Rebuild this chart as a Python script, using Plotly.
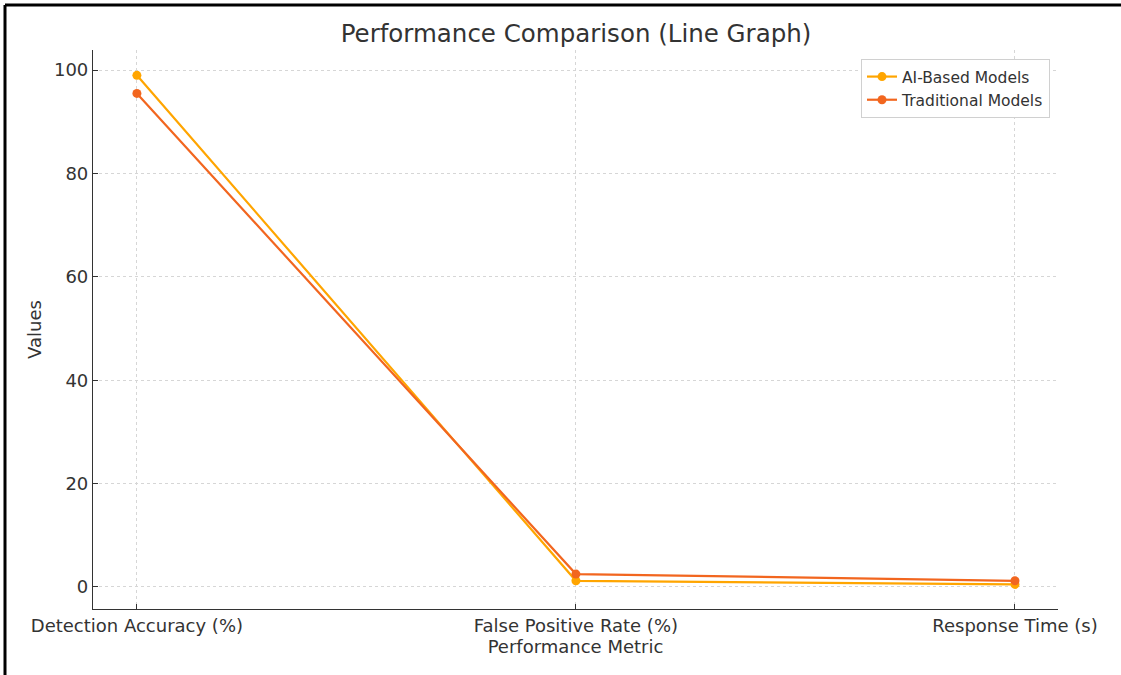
import plotly.graph_objects as go

categories = ["Detection Accuracy (%)", "False Positive Rate (%)", "Response Time (s)"]
ai_values = [99.0, 1.2, 0.5]
traditional_values = [95.5, 2.5, 1.2]

L, R, T, B = 93, 63, 50, 66
W, H = 1121, 675
pw, ph = W - L - R, H - T - B

def px_x(px):
    return (px - L) / pw

def px_y(py):
    return (H - B - py) / ph

fig = go.Figure()
fig.add_trace(go.Scatter(
    x=list(range(len(categories))), y=ai_values, name="AI-Based Models",
    mode="lines+markers", line=dict(color="#FFA500", width=2.2),
    marker=dict(size=9, color="#FFA500")))
fig.add_trace(go.Scatter(
    x=list(range(len(categories))), y=traditional_values, name="Traditional Models",
    mode="lines+markers", line=dict(color="#F2661F", width=2.2),
    marker=dict(size=9, color="#F2661F")))

font = "DejaVu Sans, Verdana, sans-serif"
fig.update_layout(
    width=W, height=H,
    margin=dict(l=L, r=R, t=T, b=B),
    paper_bgcolor="white", plot_bgcolor="white",
    font=dict(family=font, size=18, color="#333333"),
    title=dict(text="Performance Comparison (Line Graph)", x=px_x(576), xref="paper",
               xanchor="center", y=1 - 33 / H, yanchor="middle",
               font=dict(size=24.5, color="#333333")),
    xaxis=dict(
        tickvals=list(range(len(categories))), ticktext=categories,
        range=[-0.1, 2.098], showline=True, linecolor="#333333", linewidth=1.2,
        ticks="inside", ticklen=5, tickcolor="#333333",
        showgrid=True, gridcolor="#d6d6d6", griddash="3px,3px", gridwidth=1,
        zeroline=False,
        title=dict(text="Performance Metric", font=dict(size=18), standoff=4),
        tickfont=dict(size=18)),
    yaxis=dict(
        range=[-4.26, 103.9], tickvals=[0, 20, 40, 60, 80, 100],
        showline=True, linecolor="#333333", linewidth=1.2,
        ticks="inside", ticklen=5, tickcolor="#333333",
        showgrid=True, gridcolor="#d6d6d6", griddash="3px,3px", gridwidth=1,
        zeroline=False,
        title=dict(text="Values", font=dict(size=18), standoff=7),
        tickfont=dict(size=18)),
    legend=dict(x=px_x(1050), y=px_y(59), xanchor="right", yanchor="top",
                bgcolor="white", bordercolor="#d0d0d0", borderwidth=1,
                font=dict(size=15.5, color="#333333")),
    showlegend=True,
)

# black frame of the screenshot (top and left edges)
fig.add_shape(type="line", xref="paper", yref="paper",
              x0=px_x(5), x1=px_x(W + 5), y0=px_y(5), y1=px_y(5),
              line=dict(color="black", width=3))
fig.add_shape(type="line", xref="paper", yref="paper",
              x0=px_x(5), x1=px_x(5), y0=px_y(5), y1=px_y(H + 5),
              line=dict(color="black", width=3))

fig.write_html("out.html", config={"displayModeBar": False},
               post_script="document.body.style.margin='0';")
